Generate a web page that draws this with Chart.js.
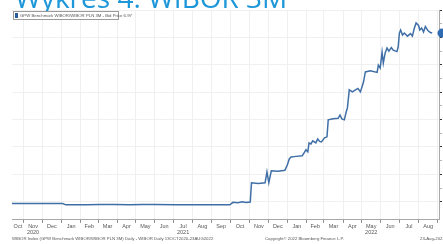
<!DOCTYPE html>
<html>
<head>
<meta charset="utf-8">
<script src="https://cdn.jsdelivr.net/npm/chart.js@4.4.0/dist/chart.umd.min.js"></script>
<style>
    html, body { margin: 0; padding: 0; background: #fff; }
</style>
</head>
<body>
<canvas id="chart" width="443" height="244"></canvas>
<script>
const titleText = 'Wykres 4. WIBOR 3M';
const seriesLabel = 'GPW Benchmark WIBOR/WIBOR PLN 3M - Bid Price 6.97';
const footerLeft = 'WIBOR Index (GPW Benchmark WIBOR/WIBOR PLN 3M) Daily - WIBOR Daily 13OCT2020-23AUG2022';
const footerMid = 'Copyright\u00a9 2022 Bloomberg Finance L.P.';
const footerRight = '23-Aug-2022 14:13';

const startDate = '2020-10-13';
const axisEndDate = '2022-09-03';

const dates = [
    '2020-10-13', '2020-11-10', '2020-12-15', '2021-01-03', '2021-01-08', '2021-02-10',
    '2021-03-05', '2021-03-28', '2021-04-21', '2021-05-12', '2021-06-01', '2021-07-05',
    '2021-08-13', '2021-09-10', '2021-09-30', '2021-10-05', '2021-10-13', '2021-10-20',
    '2021-10-26', '2021-11-02', '2021-11-04', '2021-11-15', '2021-11-26', '2021-11-29',
    '2021-12-02', '2021-12-06', '2021-12-17', '2021-12-28', '2022-01-01', '2022-01-04',
    '2022-01-07', '2022-01-15', '2022-01-25', '2022-01-28', '2022-01-31', '2022-02-03',
    '2022-02-05', '2022-02-08', '2022-02-11', '2022-02-16', '2022-02-19', '2022-02-22',
    '2022-02-25', '2022-03-02', '2022-03-06', '2022-03-08', '2022-03-16', '2022-03-24',
    '2022-03-27', '2022-03-30', '2022-04-03', '2022-04-06', '2022-04-08', '2022-04-11',
    '2022-04-16', '2022-04-21', '2022-04-25', '2022-04-29', '2022-05-04', '2022-05-07',
    '2022-05-15', '2022-05-26', '2022-05-28', '2022-05-31', '2022-06-03', '2022-06-05',
    '2022-06-08', '2022-06-11', '2022-06-14', '2022-06-18', '2022-06-21', '2022-06-27',
    '2022-06-29', '2022-07-01', '2022-07-03', '2022-07-06', '2022-07-09', '2022-07-14',
    '2022-07-19', '2022-07-22', '2022-07-25', '2022-07-28', '2022-08-01', '2022-08-03',
    '2022-08-06', '2022-08-09', '2022-08-12', '2022-08-16', '2022-08-20', '2022-08-23'
];
const rates = [
    0.25, 0.25, 0.25, 0.25, 0.20, 0.20,
    0.21, 0.21, 0.20, 0.21, 0.21, 0.20,
    0.20, 0.20, 0.20, 0.30, 0.28, 0.32,
    0.29, 0.31, 1.07, 1.04, 1.07, 1.50,
    1.07, 1.54, 1.52, 1.56, 1.78, 2.01,
    2.09, 2.11, 2.13, 2.25, 2.37, 2.29,
    2.64, 2.60, 2.72, 2.64, 2.80, 2.70,
    2.68, 2.84, 2.88, 3.55, 3.59, 3.61,
    3.74, 3.59, 3.55, 3.86, 4.02, 4.73,
    4.65, 4.73, 4.79, 4.65, 5.04, 5.44,
    5.48, 5.42, 5.71, 5.59, 6.22, 5.79,
    6.19, 6.38, 6.26, 6.40, 6.30, 6.24,
    6.42, 6.97, 7.09, 6.89, 6.97, 6.85,
    6.95, 6.85, 7.15, 7.37, 7.27, 7.09,
    7.17, 7.01, 7.23, 7.07, 6.99, 6.97
];

const monthNames = ['Jan', 'Feb', 'Mar', 'Apr', 'May', 'Jun', 'Jul', 'Aug', 'Sep', 'Oct', 'Nov', 'Dec'];
const yTicks = [0.32, 1.40, 2.48, 3.56, 4.64, 5.72, 6.80, 7.88];

const DAY = 86400000;
const t0 = Date.parse(startDate);
const dayOf = ms => Math.round((ms - t0) / DAY);
const xMax = dayOf(Date.parse(axisEndDate));
const yMin = -0.39;
const yMax = 7.88;

// month boundaries (grid) and month labels (middle of the visible part)
const monthLines = [];
const monthLabels = [];
for (let y = 2020, m = 9; y < 2023; m++) {
    if (m > 11) { m = 0; y++; }
    const s = dayOf(Date.UTC(y, m, 1));
    const e = dayOf(Date.UTC(y, m + 1, 1));
    if (s > xMax) break;
    if (s > 0) monthLines.push(s);
    const a = Math.max(s, 0), b = Math.min(e, xMax);
    if (b - a > 5) monthLabels.push({ value: (a + b) / 2, name: monthNames[m], year: y });
}

const yearLabels = [2020, 2021, 2022].map(yr => {
    const a = Math.max(dayOf(Date.UTC(yr, 0, 1)), 0);
    const b = Math.min(dayOf(Date.UTC(yr + 1, 0, 1)), xMax);
    const mid = (a + b) / 2;
    let best = monthLabels[0];
    monthLabels.filter(l => l.year === yr).forEach(l => {
        if (Math.abs(l.value - mid) < Math.abs(best.value - mid) || best.year !== yr) best = l;
    });
    return { value: best.value, name: String(yr) };
});

const points = dates.map((d, i) => ({ x: dayOf(Date.parse(d)), y: rates[i] }));

const lineColor = '#3f6fa6';

const decorations = {
    id: 'decorations',
    afterDraw(chart) {
        const ctx = chart.ctx;
        const area = chart.chartArea;
        const yScale = chart.scales.y;
        ctx.save();

        // cropped title
        ctx.fillStyle = '#1d97d9';
        ctx.font = '28px "Open Sans"';
        ctx.textBaseline = 'alphabetic';
        ctx.textAlign = 'left';
        ctx.fillText(titleText, 15, 8);

        // legend box
        ctx.fillStyle = '#ffffff';
        ctx.fillRect(13.5, 11.5, 105, 8);
        ctx.strokeStyle = '#9a9a9a';
        ctx.lineWidth = 1;
        ctx.strokeRect(13.5, 11.5, 105, 8);
        ctx.fillStyle = '#2c5d9c';
        ctx.fillRect(15, 13, 3, 5);
        ctx.fillStyle = '#555';
        ctx.font = '4.3px "Liberation Sans"';
        ctx.textBaseline = 'middle';
        ctx.fillText(seriesLabel, 20, 15.7);

        // last price marker on the axis
        const last = rates[rates.length - 1];
        ctx.fillStyle = '#2f6cb3';
        ctx.beginPath();
        ctx.arc(area.right + 3, yScale.getPixelForValue(last), 4.5, 0, Math.PI * 2);
        ctx.fill();

        // footer
        ctx.fillStyle = '#555';
        ctx.font = '4.3px "Liberation Sans"';
        ctx.textBaseline = 'middle';
        ctx.textAlign = 'left';
        ctx.fillText(footerLeft, 12, 239);
        ctx.fillText(footerMid, 265, 239);
        ctx.fillText(footerRight, 420, 239);
        ctx.restore();
    }
};

const ctx = document.getElementById('chart').getContext('2d');
const chart = new Chart(ctx, {
    type: 'line',
    data: {
        datasets: [{
            label: seriesLabel,
            data: points,
            borderColor: lineColor,
            borderWidth: 1.5,
            pointRadius: 0,
            tension: 0,
            xAxisID: 'x',
            yAxisID: 'y'
        }]
    },
    options: {
        responsive: false,
        devicePixelRatio: 1,
        animation: false,
        layout: { padding: { left: 12, top: 10, right: 1, bottom: 8 } },
        plugins: { legend: { display: false }, tooltip: { enabled: false } },
        scales: {
            x: {
                type: 'linear', position: 'bottom', weight: 0,
                min: 0, max: xMax,
                afterBuildTicks: s => { s.ticks = monthLines.map(v => ({ value: v })); },
                ticks: { display: false },
                grid: { color: '#f0f0f0', tickColor: '#8a8a8a', tickLength: 3 },
                border: { color: '#a8a8a8' }
            },
            xl: {
                type: 'linear', position: 'bottom', weight: 1,
                min: 0, max: xMax,
                afterBuildTicks: s => { s.ticks = monthLabels.map(l => ({ value: l.value })); },
                ticks: {
                    autoSkip: false, maxRotation: 0, padding: 0,
                    color: '#555', font: { size: 5.5, family: 'Liberation Sans' },
                    callback: (v, i) => monthLabels[i].name
                },
                grid: { display: false, drawTicks: false },
                border: { display: false }
            },
            xy: {
                type: 'linear', position: 'bottom', weight: 2,
                min: 0, max: xMax,
                afterBuildTicks: s => { s.ticks = yearLabels.map(l => ({ value: l.value })); },
                ticks: {
                    autoSkip: false, maxRotation: 0, padding: 0,
                    color: '#555', font: { size: 5.5, family: 'Liberation Sans' },
                    callback: (v, i) => yearLabels[i].name
                },
                grid: { display: false, drawTicks: false },
                border: { display: false }
            },
            y: {
                type: 'linear', position: 'right',
                min: yMin, max: yMax,
                afterBuildTicks: s => {
                    const t = [];
                    yTicks.forEach((v, i) => {
                        t.push({ value: v });
                        if (i < yTicks.length - 1) t.push({ value: (v + yTicks[i + 1]) / 2, minor: true });
                    });
                    s.ticks = t;
                },
                ticks: { display: false },
                grid: {
                    color: c => c.tick && c.tick.minor ? 'rgba(0,0,0,0)' : '#f0f0f0',
                    tickColor: c => c.tick && c.tick.minor ? '#b5b5b5' : '#333',
                    tickLength: 3
                },
                border: { color: '#a8a8a8' }
            }
        }
    },
    plugins: [decorations]
});
</script>
</body>
</html>
